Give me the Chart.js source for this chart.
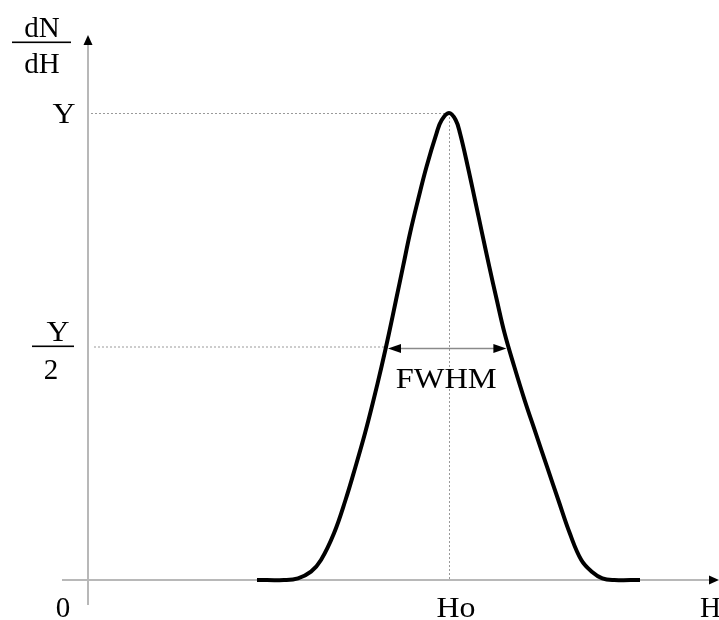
<!DOCTYPE html>
<html>
<head>
<meta charset="utf-8">
<script src="https://cdn.jsdelivr.net/npm/chart.js@4/dist/chart.umd.min.js"></script>
<style>
  html, body { margin: 0; padding: 0; background: #fff; }
  canvas { display: block; }
</style>
</head>
<body>
<canvas id="peak" width="719" height="620"></canvas>
<script>
// curve (H in units where Ho = 100, dN/dH in units of Y)
const hValues    = [46.81, 54.29, 58.17, 61.77, 64.54, 68.14, 71.33, 74.10, 76.73, 79.09, 81.30, 83.38, 85.32, 87.26,
                    89.20, 91.41, 93.77, 96.54, 97.98, 100,
                    101.85, 103.05, 105.21, 107.20, 109.17, 111.16, 113.24, 115.40, 118.09, 120.94, 124.04, 127.15,
                    130.28, 133.46, 136.65, 139.56, 142.47, 145.79, 152.91];
const dndhValues = [0, 0, 0.0036, 0.0178, 0.0428, 0.100, 0.1713, 0.2426, 0.3141, 0.3854, 0.4567, 0.5283, 0.5996, 0.6709,
                    0.7424, 0.8137, 0.8850, 0.9565, 0.9850, 1.0,
                    0.9850, 0.9565, 0.8850, 0.8137, 0.7424, 0.6709, 0.5996, 0.5283, 0.4567, 0.3854, 0.3141, 0.2426,
                    0.1713, 0.100, 0.0428, 0.0178, 0.0036, 0, 0];

const peakH = 100;          // Ho
const peakY = 1;            // Y
const halfY = peakY / 2;    // Y/2
const fwhmLeft = 83.1;
const fwhmRight = 115.9;

const xTickLabels = ['0', 'Ho', 'H'];
const yTickLabels = ['Y', ['Y', '2']];
const yAxisTitle = ['dN', 'dH'];
const fwhmLabel = 'FWHM';

const points = hValues.map((h, i) => ({ x: h, y: dndhValues[i] }));

const SERIF = '"Liberation Serif", "DejaVu Serif", serif';
const FONT = '29px ' + SERIF;

function arrowHead(ctx, tipX, tipY, dir, len, half) {
  ctx.beginPath();
  ctx.moveTo(tipX, tipY);
  if (dir === 'up') {
    ctx.lineTo(tipX - half, tipY + len);
    ctx.lineTo(tipX + half, tipY + len);
  } else if (dir === 'right') {
    ctx.lineTo(tipX - len, tipY - half);
    ctx.lineTo(tipX - len, tipY + half);
  } else {
    ctx.lineTo(tipX + len, tipY - half);
    ctx.lineTo(tipX + len, tipY + half);
  }
  ctx.closePath();
  ctx.fill();
}

// text a bit wider than the font, like the original
function wideText(ctx, text, x, y, sx) {
  ctx.save();
  ctx.translate(x, y);
  ctx.scale(sx, 1);
  ctx.fillText(text, 0, 0);
  ctx.restore();
}

const decorations = {
  id: 'decorations',
  beforeDatasetsDraw(chart) {
    const ctx = chart.ctx;
    const xs = chart.scales.x, ys = chart.scales.y;
    const area = chart.chartArea;
    const x0 = xs.getPixelForValue(0), y0 = ys.getPixelForValue(0);
    const xp = xs.getPixelForValue(peakH), yp = ys.getPixelForValue(peakY);
    const yh = ys.getPixelForValue(halfY);
    const xl = xs.getPixelForValue(fwhmLeft);

    ctx.save();
    // axes
    ctx.strokeStyle = '#b8b8b8';
    ctx.lineWidth = 2;
    ctx.beginPath();
    ctx.moveTo(x0, area.bottom); ctx.lineTo(x0, area.top + 4);
    ctx.moveTo(area.left, y0); ctx.lineTo(area.right - 4, y0);
    ctx.stroke();
    ctx.fillStyle = '#000';
    arrowHead(ctx, x0, area.top + 2, 'up', 10, 4.5);
    arrowHead(ctx, area.right, y0, 'right', 10, 4.5);

    // dotted guides
    ctx.strokeStyle = '#999';
    ctx.lineWidth = 1;
    ctx.setLineDash([2, 2]);
    ctx.beginPath();
    ctx.moveTo(x0 + 3, yp + 0.5); ctx.lineTo(xp, yp + 0.5);
    ctx.moveTo(xp + 0.5, yp); ctx.lineTo(xp + 0.5, y0);
    ctx.moveTo(x0 + 6, yh + 0.5); ctx.lineTo(xl, yh + 0.5);
    ctx.stroke();
    ctx.restore();
  },
  afterDatasetsDraw(chart) {
    const ctx = chart.ctx;
    const xs = chart.scales.x, ys = chart.scales.y;
    const area = chart.chartArea;
    const x0 = xs.getPixelForValue(0), y0 = ys.getPixelForValue(0);
    const xp = xs.getPixelForValue(peakH), yp = ys.getPixelForValue(peakY);
    const yh = ys.getPixelForValue(halfY);
    const xl = xs.getPixelForValue(fwhmLeft), xr = xs.getPixelForValue(fwhmRight);

    ctx.save();
    // FWHM arrow
    const ya = yh + 2;
    ctx.strokeStyle = '#8a8a8a';
    ctx.lineWidth = 1.5;
    ctx.beginPath();
    ctx.moveTo(xl + 10, ya); ctx.lineTo(xr - 10, ya);
    ctx.stroke();
    ctx.fillStyle = '#000';
    arrowHead(ctx, xl, ya, 'left', 13, 4.5);
    arrowHead(ctx, xr, ya, 'right', 13, 4.5);

    // text
    ctx.font = FONT;
    ctx.fillStyle = '#000';
    ctx.textBaseline = 'alphabetic';
    ctx.textAlign = 'center';
    wideText(ctx, fwhmLabel, (xl + xr) / 2 - 1, ya + 39, 1.12);

    // x tick labels
    ctx.fillText(xTickLabels[0], x0 - 25, y0 + 37);
    wideText(ctx, xTickLabels[1], xp + 7, y0 + 37, 1.1);
    ctx.textAlign = 'left';
    ctx.fillText(xTickLabels[2], area.right - 19, y0 + 37);

    // y tick labels
    ctx.textAlign = 'center';
    wideText(ctx, yTickLabels[0], x0 - 24, yp + 10, 1.1);
    const fx = x0 - 35;
    wideText(ctx, yTickLabels[1][0], fx + 5, yh - 6, 1.1);
    ctx.fillText(yTickLabels[1][1], fx - 2, yh + 32);
    ctx.fillRect(fx - 21, yh - 1, 42, 1.6);

    // axis title dN/dH
    const tx = 42;
    ctx.fillText(yAxisTitle[0], tx, 37);
    ctx.fillRect(tx - 30, 41.5, 59, 1.6);
    ctx.fillText(yAxisTitle[1], tx, 73);
    ctx.restore();
  }
};

new Chart(document.getElementById('peak').getContext('2d'), {
  type: 'line',
  data: {
    datasets: [{
      data: points,
      borderColor: '#000',
      borderWidth: 4,
      pointRadius: 0,
      fill: false,
      tension: 0.4,
      borderCapStyle: 'butt',
      borderJoinStyle: 'round'
    }]
  },
  options: {
    responsive: false,
    animation: false,
    devicePixelRatio: 1,
    layout: { padding: { left: 62, right: 0, top: 33, bottom: 15 } },
    plugins: { legend: { display: false }, tooltip: { enabled: false } },
    scales: {
      x: { type: 'linear', display: false, min: -7.202, max: 174.79 },
      y: { type: 'linear', display: false, min: -0.05353, max: 1.17131 }
    }
  },
  plugins: [decorations]
});
</script>
</body>
</html>
